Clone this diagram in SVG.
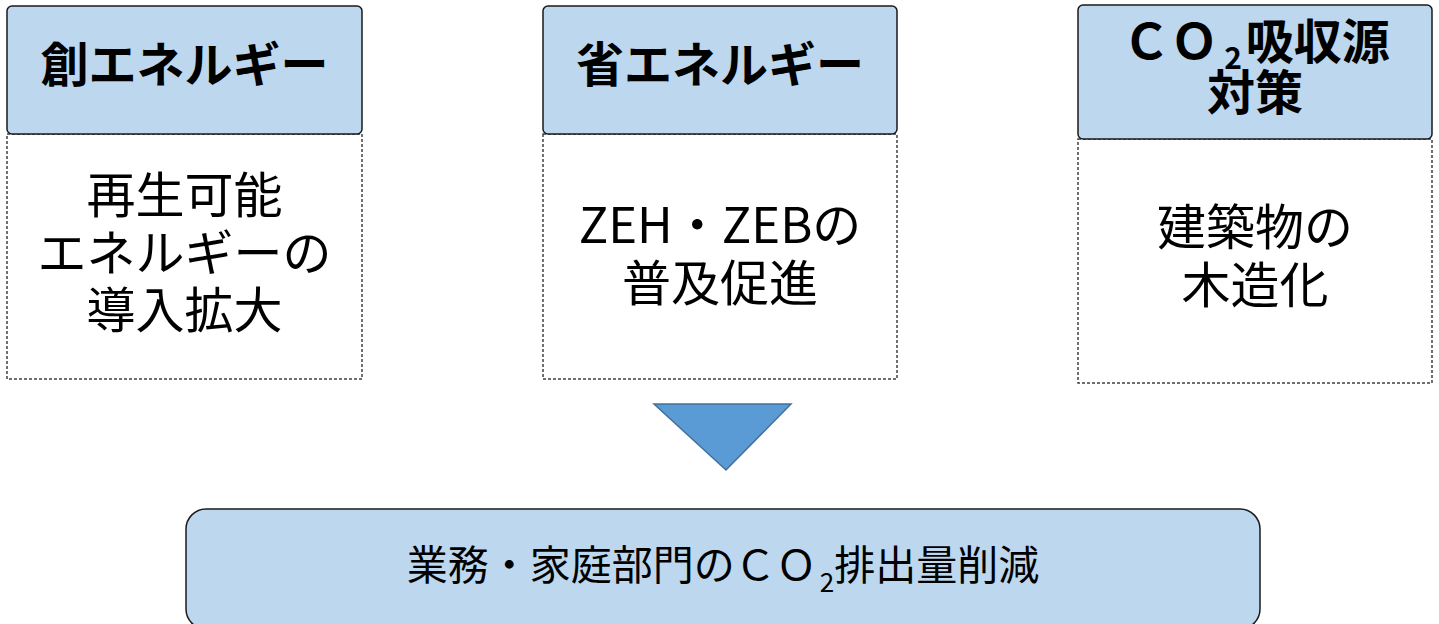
<svg xmlns="http://www.w3.org/2000/svg" width="1439" height="624" viewBox="0 0 1439 624">
<style>
.hdr{fill:#bdd7ee;stroke:#1a1a1a;stroke-width:1.5}
.body{fill:#ffffff;stroke:#404040;stroke-width:1.5;stroke-dasharray:3 2}
.ht{font-family:"Noto Sans CJK JP",sans-serif;font-weight:bold;font-size:48px;fill:#000;text-anchor:middle}
.bt{font-family:"Noto Sans CJK JP",sans-serif;font-size:49px;fill:#000;text-anchor:middle}
.ft{font-family:"Noto Sans CJK JP",sans-serif;font-size:41px;fill:#000;text-anchor:middle}
</style>
<rect width="1439" height="624" fill="#ffffff"/>
<g id="node-create">
<rect class="body" x="7" y="134" width="355" height="245"/>
<rect class="hdr" x="7" y="6" width="355" height="128" rx="5"/>
<text class="ht" x="184.5" y="82">創エネルギー</text>
<text class="bt"><tspan x="184.5" y="213">再生可能</tspan><tspan x="184.5" y="271">エネルギーの</tspan><tspan x="184.5" y="328">導入拡大</tspan></text>
</g>
<g id="node-save">
<rect class="body" x="543" y="134" width="354" height="245"/>
<rect class="hdr" x="543" y="6" width="354" height="128" rx="5"/>
<text class="ht" x="720" y="82">省エネルギー</text>
<text class="bt"><tspan x="720" y="243">ZEH・ZEBの</tspan><tspan x="720" y="301">普及促進</tspan></text>
</g>
<g id="node-sink">
<rect class="body" x="1078" y="139" width="354" height="244"/>
<rect class="hdr" x="1078" y="5" width="354" height="134" rx="5"/>
<text class="ht"><tspan x="1256" y="59">ＣＯ</tspan><tspan font-size="30" dx="6" dy="10">2</tspan><tspan dx="4" dy="-10">吸収源</tspan><tspan x="1255" y="110">対策</tspan></text>
<text class="bt"><tspan x="1255" y="245">建築物の</tspan><tspan x="1255" y="303">木造化</tspan></text>
</g>
<g id="connectors">
<polygon points="654,404 791,404 726,470" fill="#5b9bd5" stroke="#41719c" stroke-width="1.5"/>
</g>
<g id="node-result">
<rect class="hdr" x="186" y="509" width="1074" height="120" rx="20"/>
<text class="ft" x="723" y="580">業務・家庭部門のＣＯ<tspan font-size="26" dx="3" dy="12">2</tspan><tspan dy="-12">排出量削減</tspan></text>
</g>
</svg>
